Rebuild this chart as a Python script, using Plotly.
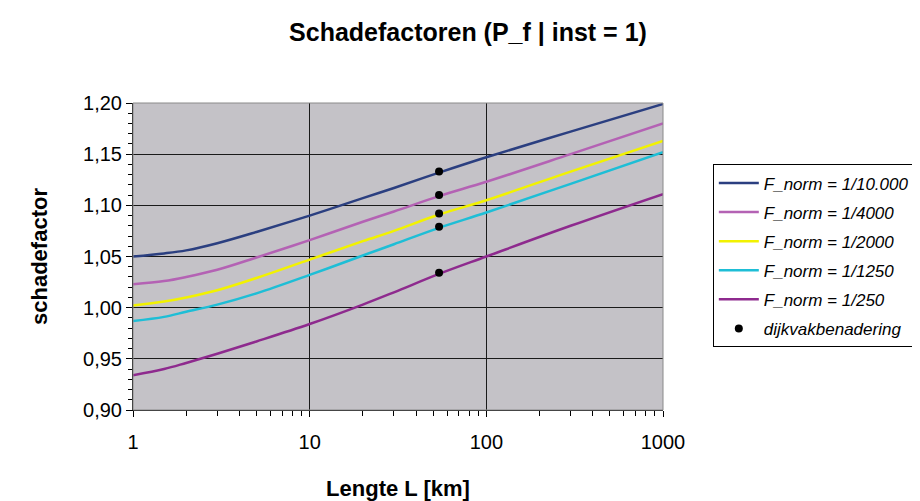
import plotly.graph_objects as go

lengths = [1, 1.5, 2, 3, 5, 10, 20, 30, 54, 100, 300, 1000]
f_10000 = [1.050, 1.053, 1.056, 1.063, 1.074, 1.090, 1.107, 1.117, 1.132, 1.147, 1.172, 1.199]
f_4000 = [1.023, 1.026, 1.030, 1.037, 1.049, 1.066, 1.084, 1.094, 1.109, 1.123, 1.150, 1.180]
f_2000 = [1.002, 1.006, 1.010, 1.017, 1.029, 1.047, 1.065, 1.075, 1.091, 1.105, 1.133, 1.163]
f_1250 = [0.987, 0.991, 0.996, 1.003, 1.014, 1.032, 1.051, 1.062, 1.078, 1.093, 1.121, 1.152]
f_250 = [0.934, 0.940, 0.946, 0.955, 0.967, 0.984, 1.003, 1.015, 1.033, 1.050, 1.080, 1.111]

dijk_L = [54, 54, 54, 54, 54]
dijk_vals = [1.133, 1.110, 1.092, 1.079, 1.034]

names = ["F_norm = 1/10.000", "F_norm = 1/4000", "F_norm = 1/2000",
         "F_norm = 1/1250", "F_norm = 1/250"]
series = [f_10000, f_4000, f_2000, f_1250, f_250]
colors = ["#2B3F80", "#B462B4", "#F2F200", "#1EBED6", "#8E2A8E"]

x_ticks = [1, 10, 100, 1000]
y_ticks = [0.90, 0.95, 1.00, 1.05, 1.10, 1.15, 1.20]
y_ticklabels = ["0,90", "0,95", "1,00", "1,05", "1,10", "1,15", "1,20"]

fig = go.Figure()
for i, (nm, ys, c) in enumerate(zip(names, series, colors)):
    fig.add_trace(go.Scatter(x=lengths, y=ys, mode="lines", name=nm,
                             line=dict(color=c, width=2.5, shape="spline", smoothing=1.0),
                             legendgroup=f"g{i}"))
fig.add_trace(go.Scatter(x=dijk_L, y=dijk_vals, mode="markers", name="dijkvakbenadering",
                         marker=dict(color="black", size=8), legendgroup="g5"))

font = "Liberation Sans, Arial, sans-serif"
fig.update_layout(
    width=920, height=501,
    margin=dict(l=125, r=265, t=95, b=99, autoexpand=False),
    paper_bgcolor="white",
    plot_bgcolor="#C4C2C7",
    font=dict(family=font, color="black"),
    title=dict(text="<b>Schadefactoren (P_f | inst = 1)</b>", x=0.5, xanchor="center",
               y=0.952, yanchor="middle", font=dict(size=25, family=font)),
    showlegend=True,
    legend=dict(x=1.094, y=0.80, xanchor="left", yanchor="top",
                bgcolor="white", bordercolor="black", borderwidth=1,
                font=dict(size=17, family=font, style="italic"),
                tracegroupgap=4, itemwidth=40),
    xaxis=dict(type="log", range=[0, 3], tickvals=x_ticks, ticktext=[str(v) for v in x_ticks],
               showgrid=True, gridcolor="#1a1a1a", gridwidth=1,
               ticks="outside", ticklen=6, tickcolor="black",
               showline=True, linecolor="black", linewidth=1,
               tickfont=dict(size=20, family=font), ticklabelstandoff=8,
               minor=dict(ticks="outside", ticklen=5, tickcolor="black", dtick="D1", showgrid=False),
               title=dict(text="<b>Lengte L [km]</b>", font=dict(size=22, family=font), standoff=28),
               automargin=False, zeroline=False),
    yaxis=dict(range=[0.90, 1.20], tickvals=y_ticks, ticktext=y_ticklabels,
               showgrid=True, gridcolor="#1a1a1a", gridwidth=1,
               ticks="outside", ticklen=6, tickcolor="black",
               showline=True, linecolor="black", linewidth=1,
               tickfont=dict(size=20, family=font),
               minor=dict(ticks="outside", ticklen=4, tickcolor="black", dtick=0.01, showgrid=False),
               title=dict(text="<b>schadefactor</b>", font=dict(size=22, family=font), standoff=29),
               automargin=False, zeroline=False),
)
fig.add_shape(type="rect", xref="paper", yref="paper", x0=0, y0=0, x1=1, y1=1,
              line=dict(color="#8a8a8a", width=1), layer="above")
fig.write_html("out.html")
